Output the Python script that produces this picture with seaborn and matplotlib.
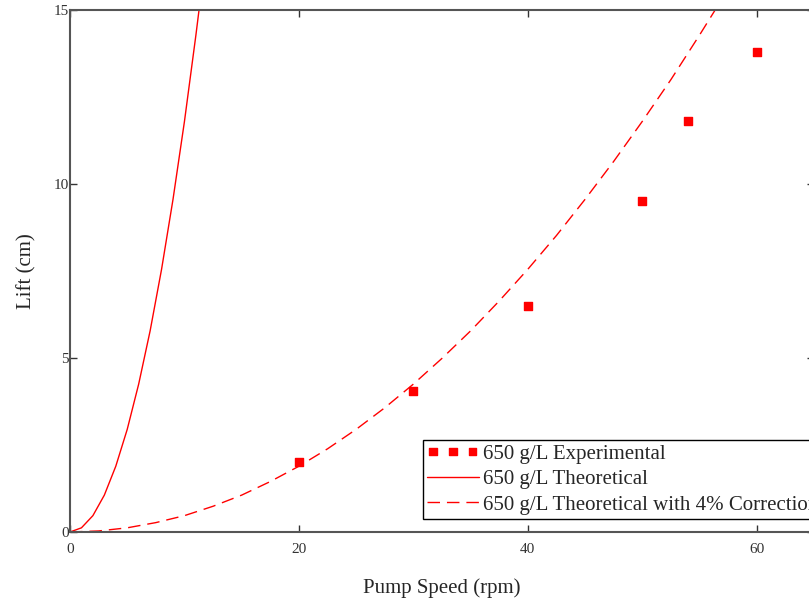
import matplotlib
matplotlib.use("Agg")
import matplotlib.pyplot as plt
import seaborn as sns

sns.set_style("ticks")
plt.rcParams['font.family'] = ['Liberation Serif', 'DejaVu Serif']

# experimental data
exp_speed = [20, 30, 40, 50, 54, 60]
exp_lift = [2.0, 4.05, 6.5, 9.5, 11.8, 13.8]

# theoretical curve
theo_speed = [0, 1, 2, 3, 4, 5, 6, 7, 8, 9, 10, 11, 11.5]
theo_lift = [0, 0.12, 0.47, 1.06, 1.89, 2.95, 4.25, 5.78, 7.55, 9.56, 11.8, 14.28, 15.6]

# theoretical with 4% correction
corr_speed = [0, 2.5, 5, 7.5, 10, 12.5, 15, 17.5, 20, 22.5, 25, 27.5, 30, 32.5, 35,
              37.5, 40, 42.5, 45, 47.5, 50, 52.5, 55, 57.5]
corr_lift = [0, 0.03, 0.12, 0.27, 0.47, 0.74, 1.06, 1.45, 1.89, 2.39, 2.95, 3.57, 4.25,
             4.99, 5.78, 6.64, 7.55, 8.52, 9.56, 10.65, 11.8, 13.0, 14.28, 15.6]

red = "#ff0000"

fig = plt.figure(figsize=(8.09, 6.01), dpi=100)
ax = fig.add_axes([70 / 809, 69 / 601, 744 / 809, 522 / 601])

sns.scatterplot(x=exp_speed, y=exp_lift, ax=ax, color=red, marker="s", s=30,
                edgecolor=red, linewidth=1.0, label="650 g/L Experimental", zorder=3)
sns.lineplot(x=theo_speed, y=theo_lift, ax=ax, color=red, linewidth=1.0,
             label="650 g/L Theoretical", estimator=None)
sns.lineplot(x=corr_speed, y=corr_lift, ax=ax, color=red, linewidth=1.0,
             linestyle=(0, (9, 5)), label="650 g/L Theoretical with 4% Correction",
             estimator=None)

ax.set_xlim(0, 65)
ax.set_ylim(0, 15)
ax.set_xticks([0, 20, 40, 60])
ax.set_yticks([0, 5, 10, 15])
ax.set_xlabel("Pump Speed (rpm)", fontsize=15, labelpad=16)
ax.set_ylabel("Lift (cm)", fontsize=15, labelpad=12)
ax.tick_params(axis="both", direction="in", length=5, width=1, colors="#333333",
               labelsize=11, top=True, right=True)
ax.tick_params(axis="x", pad=8)
ax.tick_params(axis="y", pad=1)
for sp in ax.spines.values():
    sp.set_color("#555555")
    sp.set_linewidth(1.5)
    sp.set_visible(True)

leg = ax.legend(loc="lower left", bbox_to_anchor=(0.474, 0.025), fontsize=15,
                scatterpoints=3, scatteryoffsets=[0.5], handlelength=2.5,
                handletextpad=0.2, borderpad=0.2, labelspacing=0.28,
                fancybox=False, framealpha=1, edgecolor="black", borderaxespad=0)
leg.get_frame().set_linewidth(1.0)

fig.savefig("out.png", dpi=100)
